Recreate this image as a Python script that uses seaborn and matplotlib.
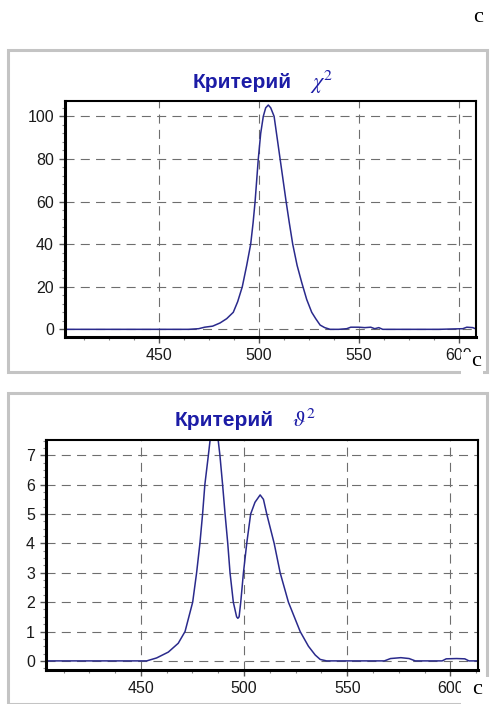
import matplotlib
matplotlib.use("Agg")
import matplotlib.pyplot as plt
from matplotlib.patches import Rectangle
from matplotlib.ticker import MultipleLocator, AutoMinorLocator
import seaborn as sns
import pandas as pd

# chi^2 criterion vs wavelength
chi_x = [404, 440, 465, 470, 473, 477, 480.7, 484, 487.3, 489.5, 491.8, 494, 496,
         497.2, 498.2, 499, 499.8, 501, 502.3, 503.5, 504.8, 506, 507.7, 509.2,
         510.7, 512.2, 513.7, 515.3, 517, 519.2, 521.5, 524, 526.5, 528.5, 530.7,
         533, 535.7, 540, 544, 546, 550, 553, 556, 558, 560, 562, 570, 590, 602,
         604, 607, 609]
chi_y = [0, 0, 0, 0.3, 1, 1.5, 3, 5, 8, 13, 20, 30, 40, 50, 60, 70, 80, 92, 100,
         104, 105.3, 104, 100, 90, 80, 70, 60, 50, 40, 30, 22, 14, 8, 5, 2, 0.8,
         0, 0, 0.3, 1, 1, 0.8, 1, 0.3, 0.8, 0, 0, 0, 0.3, 1, 0.8, 0]

# theta^2 criterion vs wavelength
th_x = [404, 450, 452.8, 457.6, 463.3, 468.1, 471.4, 475.1, 477, 478.6, 479.9, 481,
        482.7, 484, 485.5, 487, 488.3, 489.6, 490.8, 492.1, 493.2, 494.8, 496.4,
        497, 497.6, 498.4, 499.7, 501.3, 503.2, 505.3, 507.8, 509.4, 511, 514.6,
        517.5, 521.5, 527.2, 531.2, 534.5, 536.9, 540, 568, 571, 576, 580, 583,
        596, 598, 603, 607, 609, 613.4]
th_y = [0, 0, 0, 0.1, 0.3, 0.6, 1.0, 2, 3, 4, 5, 6, 7, 7.8, 8.1, 7.8, 7, 6, 5, 4,
        3, 2, 1.5, 1.45, 1.5, 2, 3, 4, 5, 5.4, 5.65, 5.5, 5, 4, 3, 2, 1, 0.5, 0.2,
        0.05, 0, 0, 0.08, 0.11, 0.08, 0, 0, 0.07, 0.08, 0.07, 0, 0]

chi = pd.DataFrame({"x": chi_x, "y": chi_y})
th = pd.DataFrame({"x": th_x, "y": th_y})

sns.set_style("white")
plt.rcParams["font.family"] = ["Liberation Sans", "DejaVu Sans"]
plt.rcParams["mathtext.fontset"] = "stix"
plt.rcParams["lines.scale_dashes"] = False

W, H = 491, 704
fig = plt.figure(figsize=(W / 100, H / 100), dpi=100)

line_col = "#2a2a8c"
title_col = "#1c1ca6"
grid_col = "#6e6e6e"


def px_axes(l, t, r, b):
    return fig.add_axes([l / W, (H - b) / H, (r - l) / W, (b - t) / H])


def frame(l, t, r, b):
    fig.patches.append(Rectangle((l / W, (H - b) / H), (r - l) / W, (b - t) / H,
                                 transform=fig.transFigure, fill=False,
                                 edgecolor="#c4c4c4", linewidth=2.2, zorder=0))


def style(ax, xmaj, ymaj, ymin_div):
    ax.xaxis.set_major_locator(MultipleLocator(xmaj))
    ax.xaxis.set_minor_locator(AutoMinorLocator(4))
    ax.yaxis.set_major_locator(MultipleLocator(ymaj))
    ax.yaxis.set_minor_locator(AutoMinorLocator(ymin_div))
    ax.grid(True, which="major", color=grid_col, linestyle=(0, (6.5, 4.5)),
            linewidth=0.8)
    ax.tick_params(which="major", direction="out", length=4, width=1,
                   color="#555555", labelsize=11.5, labelcolor="#1a1a1a",
                   bottom=True, left=True, pad=4)
    ax.tick_params(which="minor", direction="out", length=2, width=0.8,
                   color="#888888", bottom=True, left=True)
    for side in ("left", "bottom"):
        ax.spines[side].set_linewidth(2.2)
        ax.spines[side].set_color("black")
    for side in ("top", "right"):
        ax.spines[side].set_linewidth(1.5)
        ax.spines[side].set_color("black")
    ax.set_xlabel("")
    ax.set_ylabel("")


def title(cx, cy, word, sym):
    # bold word, then the criterion symbol a little apart
    t = fig.text(cx / W, 1 - cy / H, word, ha="right", va="center",
                 fontsize=15, fontweight="bold", color=title_col)
    fig.text((cx + 18) / W, 1 - cy / H, sym, ha="left", va="center",
             fontsize=16, color=title_col)
    return t


# top panel
frame(8, 50, 487, 372)
ax1 = px_axes(65, 101, 476, 337)
sns.lineplot(data=chi, x="x", y="y", ax=ax1, color=line_col, linewidth=1.1,
             sort=False, estimator=None)
ax1.set_xlim(403.2, 608.6)
ax1.set_ylim(-3.6, 107.2)
style(ax1, 50, 20, 5)
ax1.set_yticks([0, 20, 40, 60, 80, 100])
title(292, 82, "Критерий", "$\\chi^2$")

# bottom panel
frame(8, 393, 487, 704)
ax2 = px_axes(46, 440, 478, 670)
sns.lineplot(data=th, x="x", y="y", ax=ax2, color=line_col, linewidth=1.1,
             sort=False, estimator=None)
ax2.set_xlim(404, 613.4)
ax2.set_ylim(-0.31, 7.52)
style(ax2, 50, 1, 4)
title(274, 421, "Критерий", "$\\vartheta^2$")

# stray "c" marks with white patches
for (cx, cy, box) in [(478, 17, None), (476, 362, (461, 352, 483, 378)),
                      (477, 690, (461, 677, 491, 704))]:
    if box is not None:
        l, t, r, b = box
        fig.patches.append(Rectangle((l / W, (H - b) / H), (r - l) / W,
                                     (b - t) / H, transform=fig.transFigure,
                                     facecolor="white", edgecolor="none",
                                     zorder=5))
    fig.text(cx / W, 1 - cy / H, "c", ha="center", va="center", fontsize=16,
             family="Liberation Serif", color="black", zorder=6)

fig.savefig("out.png", dpi=100)
